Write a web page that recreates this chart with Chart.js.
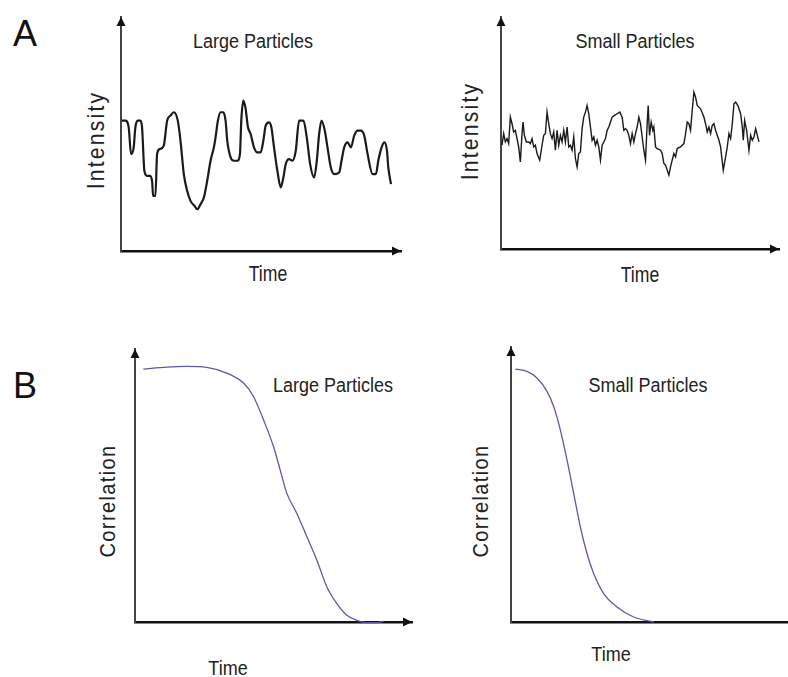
<!DOCTYPE html>
<html>
<head>
<meta charset="utf-8">
<script src="https://cdn.jsdelivr.net/npm/chart.js@4.4.0/dist/chart.umd.min.js"></script>
<style>
  html, body { margin: 0; padding: 0; background: #fff; overflow: hidden; }
  body { width: 788px; height: 677px; position: relative; }
  .panel { position: absolute; }
  .lbl { position: absolute; white-space: nowrap; color: #222;
         font-family: "Liberation Sans", Arial, sans-serif;
         line-height: 1; transform: translate(-50%, -50%) scaleX(0.9); }
  .rot { transform: translate(-50%, -50%) rotate(-90deg) scaleX(0.88); }
  .big { font-size: 36px; color: #111; transform: translate(-50%, -50%); }
</style>
</head>
<body>

<div class="lbl big" style="left:25px; top:34px;">A</div>
<div class="lbl big" style="left:25px; top:386px;">B</div>

<div class="lbl" style="left:253px; top:41px; font-size:20px;">Large Particles</div>
<div class="lbl" style="left:268px; top:274px; font-size:22px; transform:translate(-50%,-50%) scaleX(0.8);">Time</div>
<div class="lbl rot" style="left:96px; top:140px; font-size:24px; letter-spacing:2.5px;">Intensity</div>

<div class="lbl" style="left:635px; top:41px; font-size:20px;">Small Particles</div>
<div class="lbl" style="left:640px; top:275px; font-size:22px; transform:translate(-50%,-50%) scaleX(0.8);">Time</div>
<div class="lbl rot" style="left:470px; top:131px; font-size:24px; letter-spacing:2.5px;">Intensity</div>

<div class="lbl" style="left:333px; top:385px; font-size:20px;">Large Particles</div>
<div class="lbl rot" style="left:108px; top:501px; font-size:22px; letter-spacing:1.5px; transform:translate(-50%,-50%) rotate(-90deg) scaleX(0.91);">Correlation</div>
<div class="lbl" style="left:228px; top:668px; font-size:20px;">Time</div>

<div class="lbl" style="left:648px; top:385px; font-size:20px;">Small Particles</div>
<div class="lbl rot" style="left:481px; top:501px; font-size:22px; letter-spacing:1.5px; transform:translate(-50%,-50%) rotate(-90deg) scaleX(0.91);">Correlation</div>
<div class="lbl" style="left:611px; top:654px; font-size:20px;">Time</div>

<script>
// A: intensity trace, large particles
const largeTime = [0.3, 1.3, 2.3, 3.0, 3.8, 4.3, 5.0, 5.8, 6.3, 7.0, 7.8, 8.6, 9.3, 9.6, 10.3, 10.8, 11.6, 12.8, 13.8, 14.8,
  15.8, 17.0, 17.8, 18.8, 19.8, 20.8, 22.0, 22.8, 23.8, 24.8, 25.8, 26.8, 27.8, 28.3, 29.0, 29.8, 30.6, 31.3, 31.8, 32.8,
  33.8, 34.8, 35.6, 36.0, 36.6, 37.3, 38.0, 38.8, 39.8, 40.8, 41.8, 42.6, 43.3, 44.3, 45.0, 45.8, 46.8, 47.8, 48.6, 49.3,
  50.3, 51.3, 52.3, 53.3, 54.6, 55.6, 56.6, 57.8, 58.6, 59.3, 60.0, 61.0, 61.8, 62.8, 63.8, 65.3, 66.0, 66.8, 67.8, 68.8,
  69.8, 70.8, 71.8, 72.8, 73.8, 75.3, 76.3, 77.0, 78.0, 78.8, 79.6, 80.0, 80.8];
const largeIntensity = [39, 39, 37, 29, 31, 37, 39, 39, 37, 24, 22.5, 22.5, 21, 16.5, 16.5, 29, 30.5, 31.5, 39, 40.5,
  41.5, 39, 33, 23, 18, 15, 13.5, 12.5, 14, 16, 21, 27, 31, 34, 39, 41.5, 41.5, 39, 33, 28,
  27, 27, 29, 39, 45, 42.5, 37, 35, 31, 29.5, 29.5, 33, 37.5, 38.5, 37, 31, 24, 19, 22, 26,
  27.5, 27, 30, 39, 39, 34, 26, 22, 27, 35, 39, 36, 31, 25, 23, 23.5, 27, 31, 32.5, 31,
  34.5, 36, 36, 34.5, 29, 23, 23, 27, 31, 32.5, 30, 25, 20];

// A: intensity trace, small particles
const smallTime = [0.3, 0.8, 1.3, 1.8, 2.3, 2.8, 3.3, 3.8, 4.3, 4.8, 5.3, 5.8, 6.3, 6.6, 7.0, 7.6, 8.3, 8.8, 9.3, 9.8,
  10.3, 10.8, 11.6, 12.3, 12.8, 13.3, 13.8, 14.3, 14.8, 15.3, 15.8, 16.3, 16.8, 17.3, 17.8, 18.3, 18.8, 19.3, 19.8, 20.3,
  20.8, 21.3, 21.8, 22.3, 22.8, 23.3, 23.8, 24.3, 24.8, 25.3, 25.8, 26.3, 26.8, 27.3, 27.8, 28.3, 28.8, 29.3, 29.8, 30.3,
  30.8, 31.3, 31.8, 32.3, 32.8, 33.3, 34.0, 34.8, 35.6, 36.3, 36.8, 37.3, 37.8, 38.3, 38.8, 39.3, 39.8, 40.3, 40.8, 41.3,
  41.8, 42.3, 42.8, 43.3, 43.8, 44.1, 44.5, 45.0, 45.5, 45.8, 46.3, 46.8, 47.8, 48.3, 48.8, 49.3, 49.8, 50.3, 50.8, 51.3,
  51.8, 52.3, 52.8, 53.8, 54.8, 55.3, 55.8, 56.3, 56.8, 57.3, 57.8, 58.3, 58.8, 59.8, 60.8, 61.3, 61.8, 62.3, 62.8, 63.3,
  63.8, 64.3, 64.8, 65.3, 65.8, 66.3, 66.6, 67.3, 67.8, 68.3, 68.8, 69.3, 69.8, 70.3, 71.0, 71.8, 72.3, 72.6, 73.0, 73.6,
  74.3, 74.8, 75.3, 75.8, 76.3, 76.8, 77.3];
const smallIntensity = [31.3, 34.8, 32.3, 33.3, 31.8, 39.8, 37.8, 35.3, 35.8, 33.3, 30.8, 26.3, 34.8, 38.3, 34.3, 32.3, 32.3, 31.8, 33.3, 30.8,
  31.3, 28.8, 26.8, 31.3, 34.3, 34.8, 41.3, 37.8, 34.8, 33.3, 35.3, 29.8, 35.8, 31.3, 34.3, 32.3, 35.8, 32.3, 36.8, 30.8,
  31.3, 29.8, 33.8, 27.3, 24.8, 28.8, 29.3, 36.3, 39.8, 41.3, 43.3, 40.8, 36.8, 32.8, 33.8, 31.3, 32.8, 30.8, 26.8, 31.3,
  32.3, 33.3, 35.8, 36.8, 38.3, 39.8, 40.3, 40.8, 41.3, 39.8, 35.8, 36.3, 35.8, 34.3, 31.8, 34.8, 32.3, 34.8, 36.8, 39.8,
  37.8, 33.8, 29.8, 26.8, 37.8, 43.3, 34.3, 38.3, 35.8, 36.8, 30.8, 30.3, 29.8, 28.8, 25.8, 25.3, 23.8, 22.3, 24.8, 26.8,
  28.8, 27.8, 30.3, 30.8, 31.8, 34.8, 38.3, 37.8, 35.8, 41.8, 47.3, 45.8, 43.3, 42.3, 39.8, 37.8, 35.3, 36.8, 34.8, 37.3,
  37.8, 35.8, 34.3, 32.8, 30.8, 26.3, 23.8, 27.8, 30.8, 34.8, 33.3, 37.8, 43.8, 44.3, 43.3, 40.8, 36.8, 32.8, 38.8, 35.8,
  29.8, 34.3, 32.8, 33.8, 36.3, 34.3, 32.3];

// B: correlation curves
const largeCorrTime = [2.5, 9.5, 15.5, 21.5, 27.5, 32.5, 35.5, 38.5, 41.5, 43.5, 45.5, 48.5, 51.5, 54.5, 57.5, 60.5, 63.5, 66.5, 69.5, 72.5, 74.5];
const largeCorr = [75.7, 76.3, 76.5, 76.2, 74.5, 71.5, 67.5, 60.5, 52.5, 45.5, 38.5, 32.5, 25.5, 18.5, 10.5, 5.5, 2, 0.5, -0.2, -0.2, 0.2];
const smallCorrTime = [1.3, 4.8, 7.8, 10.8, 12.8, 14.8, 16.8, 18.8, 20.8, 22.8, 24.8, 27.8, 31.8, 36.8, 42.8];
const smallCorr = [75.7, 75, 73, 69, 64.5, 57.5, 48.5, 38.5, 28.5, 20.5, 14.5, 8.5, 4.5, 1.5, 0];

function pts(xs, ys) {
  return xs.map((x, i) => ({ x: x, y: ys[i] }));
}

// arrow heads at the top of the y axis and the right end of the x axis
const arrows = {
  id: 'arrows',
  afterDraw(chart) {
    const a = chart.chartArea;
    const c = chart.ctx;
    c.save();
    c.fillStyle = '#111';
    c.beginPath();
    c.moveTo(a.left, a.top);
    c.lineTo(a.left - 4.5, a.top + 9);
    c.lineTo(a.left + 4.5, a.top + 9);
    c.closePath();
    c.fill();
    c.beginPath();
    c.moveTo(a.right, a.bottom);
    c.lineTo(a.right - 9, a.bottom - 4.5);
    c.lineTo(a.right - 9, a.bottom + 4.5);
    c.closePath();
    c.fill();
    c.restore();
  }
};

const pad = 12;
const panels = [
  { data: pts(largeTime, largeIntensity), left: 121, top: 17, right: 401, bottom: 251, xMax: 83.8, yMax: 70,
    color: '#1a1a1a', width: 2.2, mode: 'monotone', tension: 0.4 },
  { data: pts(smallTime, smallIntensity), left: 501, top: 17, right: 779, bottom: 249, xMax: 83.3, yMax: 70,
    color: '#1a1a1a', width: 1.4, mode: 'default', tension: 0 },
  { data: pts(largeCorrTime, largeCorr), left: 135, top: 349, right: 412, bottom: 622, xMax: 83, yMax: 81.7,
    color: '#5a5aa6', width: 1.3, mode: 'monotone', tension: 0.4 },
  { data: pts(smallCorrTime, smallCorr), left: 511, top: 347, right: 800, bottom: 622, xMax: 86.7, yMax: 82.3,
    color: '#5a5aa6', width: 1.3, mode: 'monotone', tension: 0.4 }
];

panels.forEach(p => {
  const w = p.right - p.left + 2 * pad;
  const h = p.bottom - p.top + 2 * pad;
  const div = document.createElement('div');
  div.className = 'panel';
  div.style.left = (p.left - pad) + 'px';
  div.style.top = (p.top - pad) + 'px';
  const cv = document.createElement('canvas');
  cv.width = w;
  cv.height = h;
  cv.style.width = w + 'px';
  cv.style.height = h + 'px';
  div.appendChild(cv);
  document.body.appendChild(div);

  new Chart(cv.getContext('2d'), {
    type: 'line',
    data: {
      datasets: [{
        data: p.data,
        borderColor: p.color,
        borderWidth: p.width,
        pointRadius: 0,
        fill: false,
        tension: p.tension,
        cubicInterpolationMode: p.mode,
        clip: false
      }]
    },
    options: {
      responsive: false,
      animation: false,
      layout: { padding: pad },
      plugins: { legend: { display: false }, tooltip: { enabled: false }, title: { display: false } },
      scales: {
        x: {
          type: 'linear', min: 0, max: p.xMax,
          grid: { display: false, drawTicks: false },
          ticks: { display: false },
          border: { color: '#111', width: 2.5 }
        },
        y: {
          type: 'linear', min: 0, max: p.yMax,
          grid: { display: false, drawTicks: false },
          ticks: { display: false },
          border: { color: '#444', width: 2 }
        }
      }
    },
    plugins: [arrows]
  });
});
</script>
</body>
</html>
